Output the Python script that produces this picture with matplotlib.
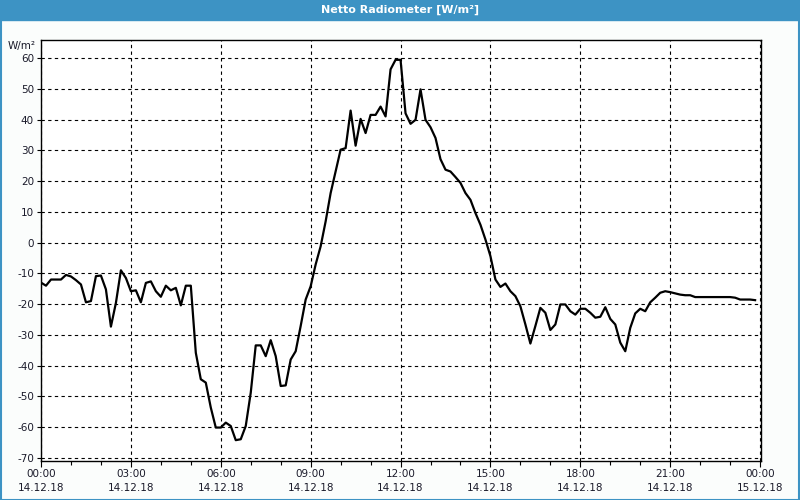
import numpy as np
import matplotlib.pyplot as plt
from matplotlib.patches import Rectangle

# 10-minute samples, 14.12.18 00:00 .. 23:50
werte = [
    -13, -14, -12, -12, -12, -10.5, -11, -12.2, -13.6, -19.4,
    -19, -10.9, -10.7, -15.2, -27.3, -19.6, -9, -11.5, -15.8, -15.5,
    -19.4, -13.1, -12.6, -15.8, -17.6, -14, -15.5, -14.7, -20.4, -14,
    -14, -35.8, -44.4, -45.5, -53.6, -60.1, -60.1, -58.5, -59.6, -64.2,
    -63.9, -59.6, -48.8, -33.4, -33.4, -36.9, -31.7, -36.9, -46.6, -46.4,
    -38, -35.3, -27.1, -18.5, -14.2, -7.1, -1.2, 6.9, 16.1, 23.1,
    30.2, 30.7, 42.9, 31.5, 40.2, 35.6, 41.5, 41.5, 44.2, 41,
    56.3, 59.4, 59.4, 42, 38.6, 39.9, 49.8, 39.9, 37.5, 34,
    27.1, 23.7, 23.1, 21.3, 19.4, 16.1, 13.9, 9.6, 5.8, 1,
    -4.4, -12, -14.4, -13.3, -15.8, -17.4, -20.7, -26.6, -32.8, -27.1,
    -21.2, -22.8, -28.4, -26.6, -20.1, -20.1, -22.3, -23.4, -21.5, -21.5,
    -22.8, -24.4, -24.1, -21, -24.8, -26.6, -32.5, -35.3, -27.7, -23,
    -21.5, -22.3, -19.4, -17.9, -16.3, -15.8, -16.1, -16.5, -16.9, -17.1,
    -17.1, -17.7, -17.7, -17.7, -17.7, -17.7, -17.7, -17.7, -17.7, -17.9,
    -18.5, -18.5, -18.5, -18.7,
]
stunden = np.arange(len(werte)) / 6.0

x_ticks = [0, 3, 6, 9, 12, 15, 18, 21, 24]
x_labels = ['00:00\n14.12.18', '03:00\n14.12.18', '06:00\n14.12.18',
            '09:00\n14.12.18', '12:00\n14.12.18', '15:00\n14.12.18',
            '18:00\n14.12.18', '21:00\n14.12.18', '00:00\n15.12.18']
y_ticks = list(range(-70, 61, 10))

blau = '#3d93c4'
fig = plt.figure(figsize=(8, 5), dpi=100, facecolor='#fbfdfc')

# Titelleiste + Rahmen
fig.patches.append(Rectangle((0, 1 - 20 / 500), 1, 20 / 500, transform=fig.transFigure,
                             color=blau, zorder=0))
fig.patches.append(Rectangle((0.0008, 0.001), 0.9984, 0.998, transform=fig.transFigure,
                             fill=False, edgecolor=blau, linewidth=1.5, zorder=1))
fig.text(0.5, 1 - 10 / 500, 'Netto Radiometer [W/m²]', color='white', fontsize=8,
         fontweight='bold', ha='center', va='center')

ax = fig.add_axes([41 / 800, 1 - 461 / 500, 720 / 800, 421 / 500])
ax.set_facecolor('white')
ax.plot(stunden, werte, color='black', linewidth=1.6, zorder=3)

ax.set_xlim(0, 24.03)
ax.set_ylim(-70.97, 65.84)
ax.set_xticks(x_ticks)
ax.set_xticklabels(x_labels, fontsize=7.5, linespacing=1.45)
ax.set_xticks(np.arange(0, 25, 1), minor=True)
ax.set_yticks(y_ticks)
ax.set_yticklabels([str(v) for v in y_ticks], fontsize=7.5)
ax.tick_params(axis='x', which='major', length=4, width=0.8, pad=2, colors='black')
ax.tick_params(axis='x', which='minor', length=3, width=0.8)
ax.tick_params(axis='y', length=3, width=0.8, pad=2)
for lbl in ax.get_xticklabels() + ax.get_yticklabels():
    lbl.set_color('#1a1a2a')

ax.grid(True, color='black', linestyle=(0, (3, 3)), linewidth=0.8)
for s in ax.spines.values():
    s.set_color('black')
    s.set_linewidth(1)

fig.text(8 / 800, 1 - 46 / 500, 'W/m²', fontsize=7.5, color='#1a1a2a', va='center')

fig.savefig('out.png', dpi=100, facecolor=fig.get_facecolor())
